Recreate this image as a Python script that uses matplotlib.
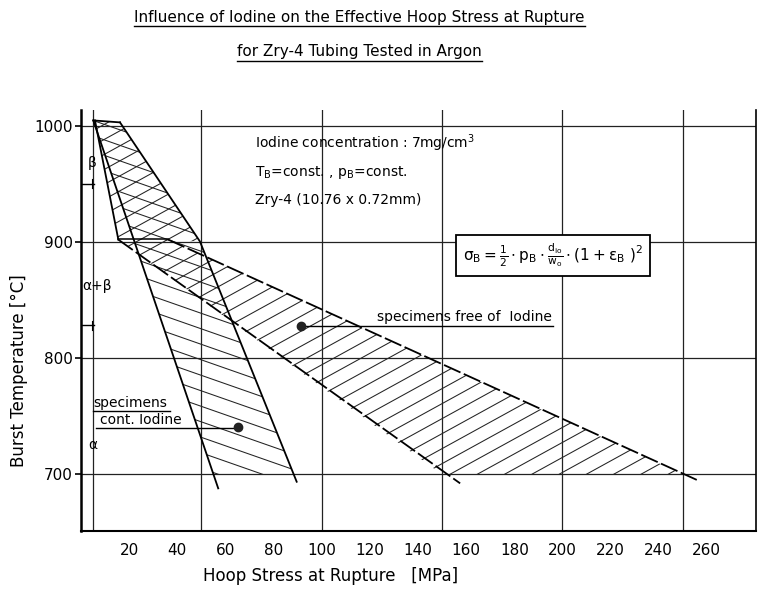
import matplotlib
matplotlib.use("Agg")
import matplotlib.pyplot as plt
from matplotlib.patches import Polygon
from matplotlib.collections import LineCollection
from matplotlib.lines import Line2D

plt.rcParams['font.family'] = ['DejaVu Sans']
plt.rcParams['mathtext.default'] = 'regular'

# values: hoop stress [MPa], burst temperature [C]
iodine_left_x = [5.1, 57.0]
iodine_left_t = [1004.5, 687.7]
iodine_right_x = [16.2, 49.4, 89.6]
iodine_right_t = [1002.8, 900.3, 693.4]
iodine_top_x = [5.1, 16.2]
iodine_top_t = [1004.5, 1002.8]
iodine_hatch_end_x = [88.3, 55.0]     # where hatching stops on the 700 C line
iodine_hatch_end_t = [700.0, 700.0]

free_left_x = [5.8, 15.5]
free_left_t = [1004.5, 902.0]
free_lower_x = [15.4, 157.5]
free_lower_t = [902.0, 692.0]
free_upper_x = [36.1, 255.8]
free_upper_t = [902.0, 695.0]
free_hatch_end_x = [250.0, 149.8]
free_hatch_end_t = [700.0, 700.0]

free_point = (91.4, 827.5)
cont_point = (65.2, 740.5)

phase_limits = [950.0, 828.0]   # beta / alpha+beta and alpha+beta / alpha marks

x_ticks = [20, 40, 60, 80, 100, 120, 140, 160, 180, 200, 220, 240, 260]
y_ticks = [700, 800, 900, 1000]
grid_x = [5, 50, 100, 150, 200, 250]

fig = plt.figure(figsize=(7.62, 5.89), dpi=100)
ax = fig.add_axes([0.1063, 0.0985, 0.8858, 0.7148])
ax.set_xlim(0, 280.4)
ax.set_ylim(651, 1013.5)

ax_w = 7.62 * 100 * 0.8858
ax_h = 5.89 * 100 * 0.7148


def hatch(xs, ts, slope, step, lw=0.75):
    # parallel lines in pixel space clipped to the polygon
    poly = Polygon(list(zip(xs, ts)), closed=True, fill=False, edgecolor='none')
    ax.add_patch(poly)
    segs = []
    c = -abs(slope) * ax_w - step
    while c < ax_h + abs(slope) * ax_w + step:
        segs.append([(0, c / ax_h), (1, (c + slope * ax_w) / ax_h)])
        c += step
    lc = LineCollection(segs, colors='#222222', linewidths=lw, transform=ax.transAxes)
    ax.add_collection(lc)
    lc.set_clip_path(poly)


# grid
for gx in grid_x:
    ax.axvline(gx, color='#222222', lw=0.9, zorder=1)
for gy in y_ticks:
    ax.axhline(gy, color='#222222', lw=0.9, zorder=1)

# iodine-free band (hatched up to the right)
hatch(free_left_x + [iodine_right_x[1], iodine_right_x[0]],
      free_left_t + [iodine_right_t[1], iodine_right_t[0]], 0.55, 15.0)
hatch([free_lower_x[0], free_upper_x[0]] + free_hatch_end_x,
      [free_lower_t[0], free_upper_t[0]] + free_hatch_end_t, 0.55, 15.0)
# iodine band (hatched down to the right)
hatch(iodine_top_x + iodine_right_x[:2] + iodine_hatch_end_x + [iodine_left_x[0]],
      iodine_top_t + iodine_right_t[:2] + iodine_hatch_end_t + [iodine_left_t[0]],
      -0.35, 15.5)

ax.plot(iodine_left_x, iodine_left_t, color='black', lw=1.3)
ax.plot(iodine_right_x, iodine_right_t, color='black', lw=1.3)
ax.plot(iodine_top_x, iodine_top_t, color='black', lw=1.3)
ax.plot(free_left_x, free_left_t, color='black', lw=1.3)
ax.plot(free_lower_x, free_lower_t, color='black', lw=1.3, ls=(0, (10, 2)))
ax.plot(free_upper_x, free_upper_t, color='black', lw=1.3, ls=(0, (10, 2)))
ax.plot([free_lower_x[0], free_upper_x[0]], [free_lower_t[0], free_upper_t[0]],
        color='black', lw=1.1)

# data points with labels
ax.plot(*free_point, 'o', color='#222222', ms=6, zorder=5)
ax.plot(*cont_point, 'o', color='#222222', ms=6, zorder=5)
ax.plot([free_point[0], 196], [free_point[1], free_point[1]], color='black', lw=1.0)
ax.text(123, 829.5, 'specimens free of  Iodine', fontsize=10, va='bottom', ha='left')
ax.plot([6.2, cont_point[0]], [cont_point[1] - 1, cont_point[1] - 1], color='black', lw=1.0)
ax.plot([5, 37], [754.3, 754.3], color='black', lw=1.0)
ax.text(5, 755.5, 'specimens', fontsize=10, va='bottom', ha='left')
ax.text(7.9, 740.5, 'cont. Iodine', fontsize=10, va='bottom', ha='left')

# phase regions
ax.text(4.6, 968, 'β', fontsize=10, ha='center', va='center')
ax.text(6.5, 862, 'α+β', fontsize=10, ha='center', va='center')
ax.text(4.8, 725, 'α', fontsize=10, ha='center', va='center')
for pt in phase_limits:
    ax.plot([0, 5.5], [pt, pt], color='black', lw=1.0)
    ax.plot([4.6, 4.6], [pt - 4, pt + 4], color='black', lw=0.8)

# text block
ax.text(72.3, 985, 'Iodine concentration : 7mg/cm$^3$', fontsize=10, va='center')
ax.text(72.3, 960, 'T$_B$=const. , p$_B$=const.', fontsize=10, va='center')
ax.text(72.3, 936, 'Zry-4 (10.76 x 0.72mm)', fontsize=10, va='center')
ax.text(196, 888,
        r'$\sigma_B=\frac{1}{2}\cdot p_B\cdot\frac{d_{io}}{w_o}\cdot(1+\varepsilon_B\ )^2$',
        fontsize=11, ha='center', va='center', zorder=6,
        bbox=dict(boxstyle='square,pad=0.45', fc='white', ec='black', lw=1.3))

# axes
ax.spines['top'].set_visible(False)
ax.spines['left'].set_linewidth(1.8)
ax.spines['bottom'].set_linewidth(1.5)
ax.spines['right'].set_linewidth(1.2)
ax.set_xticks(x_ticks)
ax.set_yticks(y_ticks)
ax.tick_params(axis='x', length=0, pad=9, labelsize=11)
ax.tick_params(axis='y', length=4, width=1.2, pad=2, labelsize=11)
ax.set_xlabel('Hoop Stress at Rupture   [MPa]', fontsize=12)
ax.set_ylabel('Burst Temperature [°C]', fontsize=12)
ax.xaxis.set_label_coords(0.37, -0.085)
ax.yaxis.set_label_coords(-0.078, 0.38)

t1 = fig.text(0.472, 0.971, 'Influence of Iodine on the Effective Hoop Stress at Rupture',
              fontsize=11, ha='center', va='center')
t2 = fig.text(0.472, 0.912, 'for Zry-4 Tubing Tested in Argon',
              fontsize=11, ha='center', va='center')

# underline the title lines
fig.canvas.draw()
r = fig.canvas.get_renderer()
for t in (t1, t2):
    bb = t.get_window_extent(r).transformed(fig.transFigure.inverted())
    fig.add_artist(Line2D([bb.x0, bb.x1], [bb.y0 - 0.003, bb.y0 - 0.003],
                          transform=fig.transFigure, color='black', lw=1.0))

fig.savefig('out.png', dpi=100)
